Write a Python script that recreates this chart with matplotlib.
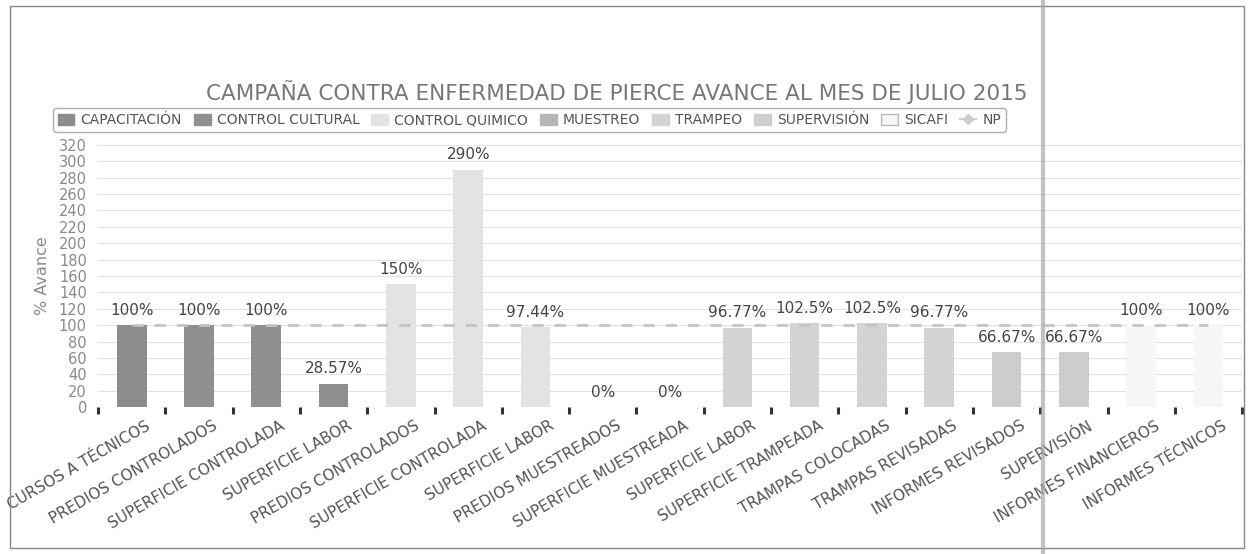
import numpy as np
import matplotlib.pyplot as plt
from matplotlib.patches import Patch, Rectangle
from matplotlib.lines import Line2D

categorias = ['CURSOS A TÉCNICOS', 'PREDIOS CONTROLADOS', 'SUPERFICIE CONTROLADA', 'SUPERFICIE LABOR',
              'PREDIOS CONTROLADOS', 'SUPERFICIE CONTROLADA', 'SUPERFICIE LABOR',
              'PREDIOS MUESTREADOS', 'SUPERFICIE MUESTREADA',
              'SUPERFICIE LABOR', 'SUPERFICIE TRAMPEADA', 'TRAMPAS COLOCADAS', 'TRAMPAS REVISADAS',
              'INFORMES REVISADOS', 'SUPERVISIÓN',
              'INFORMES FINANCIEROS', 'INFORMES TÉCNICOS']
avance = [100, 100, 100, 28.57, 150, 290, 97.44, 0, 0, 96.77, 102.5, 102.5, 96.77, 66.67, 66.67, 100, 100]
etiquetas = ['100%', '100%', '100%', '28.57%', '150%', '290%', '97.44%', '0%', '0%',
             '96.77%', '102.5%', '102.5%', '96.77%', '66.67%', '66.67%', '100%', '100%']
serie = ['CAPACITACIÓN', 'CONTROL CULTURAL', 'CONTROL CULTURAL', 'CONTROL CULTURAL',
         'CONTROL QUIMICO', 'CONTROL QUIMICO', 'CONTROL QUIMICO',
         'MUESTREO', 'MUESTREO',
         'TRAMPEO', 'TRAMPEO', 'TRAMPEO', 'TRAMPEO',
         'SUPERVISIÓN', 'SUPERVISIÓN', 'SICAFI', 'SICAFI']
np_meta = [100] * len(categorias)

colores = {'CAPACITACIÓN': '#8c8c8c', 'CONTROL CULTURAL': '#8f8f8f', 'CONTROL QUIMICO': '#e3e3e3',
           'MUESTREO': '#b5b5b5', 'TRAMPEO': '#d3d3d3', 'SUPERVISIÓN': '#cdcdcd', 'SICAFI': '#f6f6f6'}

plt.rcParams['font.family'] = ['DejaVu Sans']
fig = plt.figure(figsize=(12.49, 5.54), dpi=100)
ax = fig.add_axes([0.0785, 0.2653, 0.916, 0.473])

x = np.arange(len(categorias))
ax.bar(x, avance, width=0.44, color=[colores[s] for s in serie], zorder=2)
ax.plot(x, np_meta, linestyle=(0, (4, 4)), color='#c4c4c4', linewidth=2, zorder=3)

for xi, v, t in zip(x, avance, etiquetas):
    ax.text(xi, v + 9, t, ha='center', va='bottom', fontsize=11, color='#444444')

ax.set_xlim(-0.5, len(categorias) - 0.5)
ax.set_ylim(0, 320)
ax.set_yticks(np.arange(0, 321, 20))
ax.tick_params(axis='y', length=0, labelsize=10.5, labelcolor='#8a8a8a', pad=8)
ax.set_xticks(x + 0.2)
ax.set_xticklabels(categorias, rotation=30, ha='right', rotation_mode='anchor',
                   fontsize=11, color='#555555')
ax.tick_params(axis='x', which='major', length=0, pad=8)
ax.set_xticks(np.arange(-0.5, len(categorias)), minor=True)
ax.tick_params(axis='x', which='minor', length=5, width=2.2, color='#333333', direction='out', pad=0)
ax.grid(axis='y', color='#e2e2e2', linewidth=0.8, zorder=0)
for s in ax.spines.values():
    s.set_visible(False)
ax.set_ylabel('% Avance', fontsize=11.5, color='#8a8a8a', labelpad=6)

fig.suptitle('CAMPAÑA CONTRA ENFERMEDAD DE PIERCE AVANCE AL MES DE JULIO 2015',
             x=0.494, y=0.855, fontsize=15.5, color='#777777')

handles = [Patch(facecolor=colores[n], edgecolor='#bbbbbb' if n == 'SICAFI' else colores[n], label=n)
           for n in colores]
handles.append(Line2D([], [], color='#cccccc', marker='D', markersize=5, linewidth=1.5, label='NP'))
leg = fig.legend(handles=handles, ncol=8, loc='center', bbox_to_anchor=(0.424, 0.783),
                 fontsize=10, frameon=True, fancybox=True, edgecolor='#999999',
                 handlelength=1.2, handleheight=0.9, handletextpad=0.45, columnspacing=0.85,
                 borderpad=0.35)
for t in leg.get_texts():
    t.set_color('#555555')

fig.add_artist(Rectangle((0.008, 0.01), 0.988, 0.98, transform=fig.transFigure,
                         fill=False, edgecolor='#888888', linewidth=1))
fig.add_artist(Line2D([0.835, 0.835], [0, 1], transform=fig.transFigure,
                      color='#a8a8a8', linewidth=3, alpha=0.7))

fig.savefig('out.png', dpi=100)
